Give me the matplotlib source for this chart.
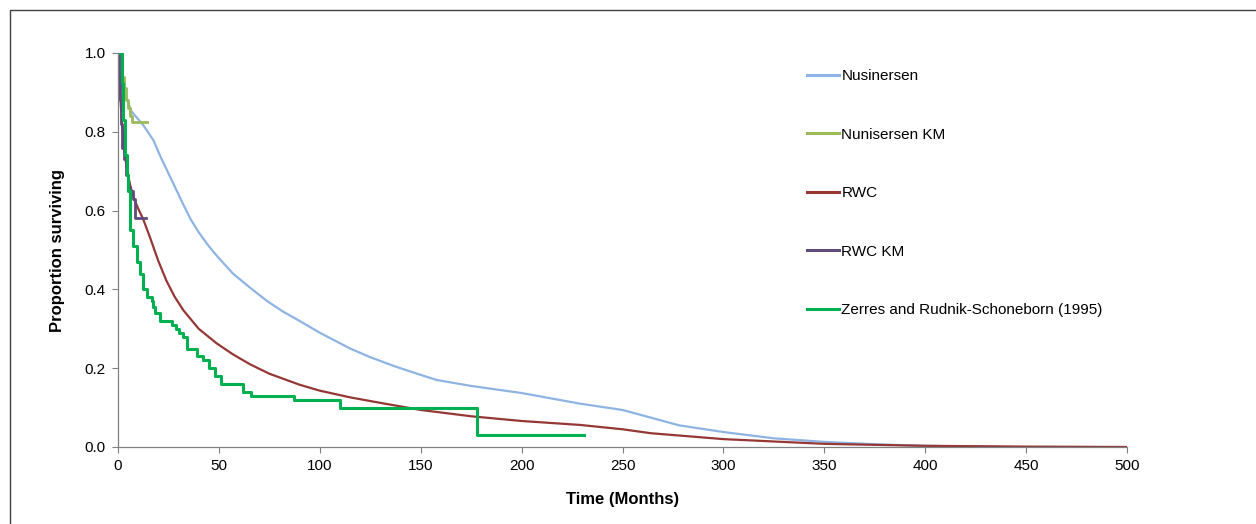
import matplotlib
matplotlib.use("Agg")
import matplotlib.pyplot as plt
from matplotlib.patches import Rectangle

plt.rcParams['font.family'] = ['Liberation Sans', 'DejaVu Sans']

# Nusinersen (modelled curve)
nus_t = [0, 2.5, 6.8, 12.5, 17.5, 21.5, 25.8, 32.4, 36, 40, 44.5, 49, 57, 66, 74, 82, 90, 100,
         115, 125, 137, 150, 158, 175, 200, 215, 229, 250, 263, 278, 300, 325, 350, 375, 400,
         425, 442]
nus_s = [1.0, 0.906, 0.851, 0.817, 0.779, 0.732, 0.686, 0.615, 0.578, 0.545, 0.513, 0.485,
         0.44, 0.402, 0.37, 0.343, 0.32, 0.29, 0.25, 0.228, 0.205, 0.183, 0.17, 0.155, 0.137,
         0.123, 0.11, 0.094, 0.076, 0.055, 0.038, 0.022, 0.013, 0.007, 0.003, 0.001, 0.0]

# Nusinersen KM (steps)
nkm_t = [0, 1, 2, 3, 4, 5, 6, 7, 14.2]
nkm_s = [1.0, 0.97, 0.94, 0.91, 0.88, 0.86, 0.84, 0.826, 0.826]

# RWC (modelled curve)
rwc_t = [0, 1, 2, 3, 4, 5, 6, 7.6, 10, 12.5, 16, 20, 24, 28, 32.4, 40, 48.9, 57, 65.4, 75,
         90, 100, 115, 130, 150, 175, 200, 229, 250, 264, 300, 350, 400, 450, 500]
rwc_s = [1.0, 0.9, 0.82, 0.76, 0.72, 0.69, 0.665, 0.635, 0.605, 0.578, 0.53, 0.472, 0.422,
         0.382, 0.347, 0.30, 0.263, 0.235, 0.21, 0.186, 0.158, 0.143, 0.126, 0.112, 0.094,
         0.078, 0.066, 0.056, 0.045, 0.035, 0.02, 0.008, 0.003, 0.001, 0.0]

# RWC KM (steps)
rkm_t = [0, 0.5, 1, 1.5, 2, 3, 4, 5, 6, 7.6, 8.5, 14]
rkm_s = [1.0, 0.93, 0.88, 0.82, 0.76, 0.73, 0.69, 0.66, 0.65, 0.63, 0.58, 0.58]

# Zerres and Rudnik-Schoneborn (1995) (steps)
zr_t = [0, 1.8, 2.5, 3.5, 4.3, 5.0, 5.9, 7.5, 9.2, 10.9, 12.5, 14.2, 16.7, 17.5, 18.3, 20.8,
        27, 28.5, 30, 32, 34, 39, 42, 45, 48, 51, 62, 66, 87, 110, 178, 231]
zr_s = [1.0, 0.925, 0.83, 0.74, 0.69, 0.65, 0.55, 0.51, 0.47, 0.44, 0.40, 0.38, 0.37, 0.355,
        0.34, 0.32, 0.31, 0.30, 0.29, 0.28, 0.25, 0.23, 0.22, 0.20, 0.18, 0.16, 0.14, 0.13,
        0.12, 0.10, 0.03, 0.03]

labels = ["Nusinersen", "Nunisersen KM", "RWC", "RWC KM", "Zerres and Rudnik-Schoneborn (1995)"]
colors = ["#8EB4E3", "#9BBB59", "#953735", "#604A7B", "#00B050"]

fig = plt.figure(figsize=(12.56, 5.24), dpi=100)
ax = fig.add_axes([118/1256, 77/524, (1127-118)/1256, (447-53)/524])

l1, = ax.plot(nus_t, nus_s, color=colors[0], lw=1.6, label=labels[0])
l2, = ax.step(nkm_t, nkm_s, where='post', color=colors[1], lw=2.0, label=labels[1])
l3, = ax.plot(rwc_t, rwc_s, color=colors[2], lw=1.6, label=labels[2])
l4, = ax.step(rkm_t, rkm_s, where='post', color=colors[3], lw=2.0, label=labels[3])
l5, = ax.step(zr_t, zr_s, where='post', color=colors[4], lw=2.2, label=labels[4])

ax.set_xlim(0, 500)
ax.set_ylim(0, 1.0)
ax.set_xticks(range(0, 501, 50))
ax.set_yticks([0, 0.2, 0.4, 0.6, 0.8, 1.0])
ax.set_yticklabels(["0.0", "0.2", "0.4", "0.6", "0.8", "1.0"])
ax.tick_params(direction='out', length=4, width=0.8, color='#808080', labelsize=11,
               labelcolor='black', pad=5)
for s in ['top', 'right']:
    ax.spines[s].set_visible(False)
for s in ['left', 'bottom']:
    ax.spines[s].set_color('#808080')
    ax.spines[s].set_linewidth(0.9)

ax.set_xlabel("Time (Months)", fontsize=12, fontweight='bold', labelpad=13)
ax.set_ylabel("Proportion surviving", fontsize=12, fontweight='bold', labelpad=14)

leg = ax.legend(handles=[l1, l2, l3, l4, l5], loc='upper left',
                bbox_to_anchor=(807/1256, 1 - 69/524), bbox_transform=fig.transFigure,
                frameon=False, fontsize=11, handlelength=2.1, handletextpad=0.15,
                labelspacing=2.92, borderaxespad=0, borderpad=0)
for h in leg.get_lines():
    h.set_linewidth(2.2)

fig.patches.append(Rectangle((10/1256, -0.1), 1.2, 1 - 10/524 + 0.1,
                             transform=fig.transFigure, fill=False,
                             edgecolor='#404040', lw=1.0))

fig.savefig("out.png", dpi=100)
